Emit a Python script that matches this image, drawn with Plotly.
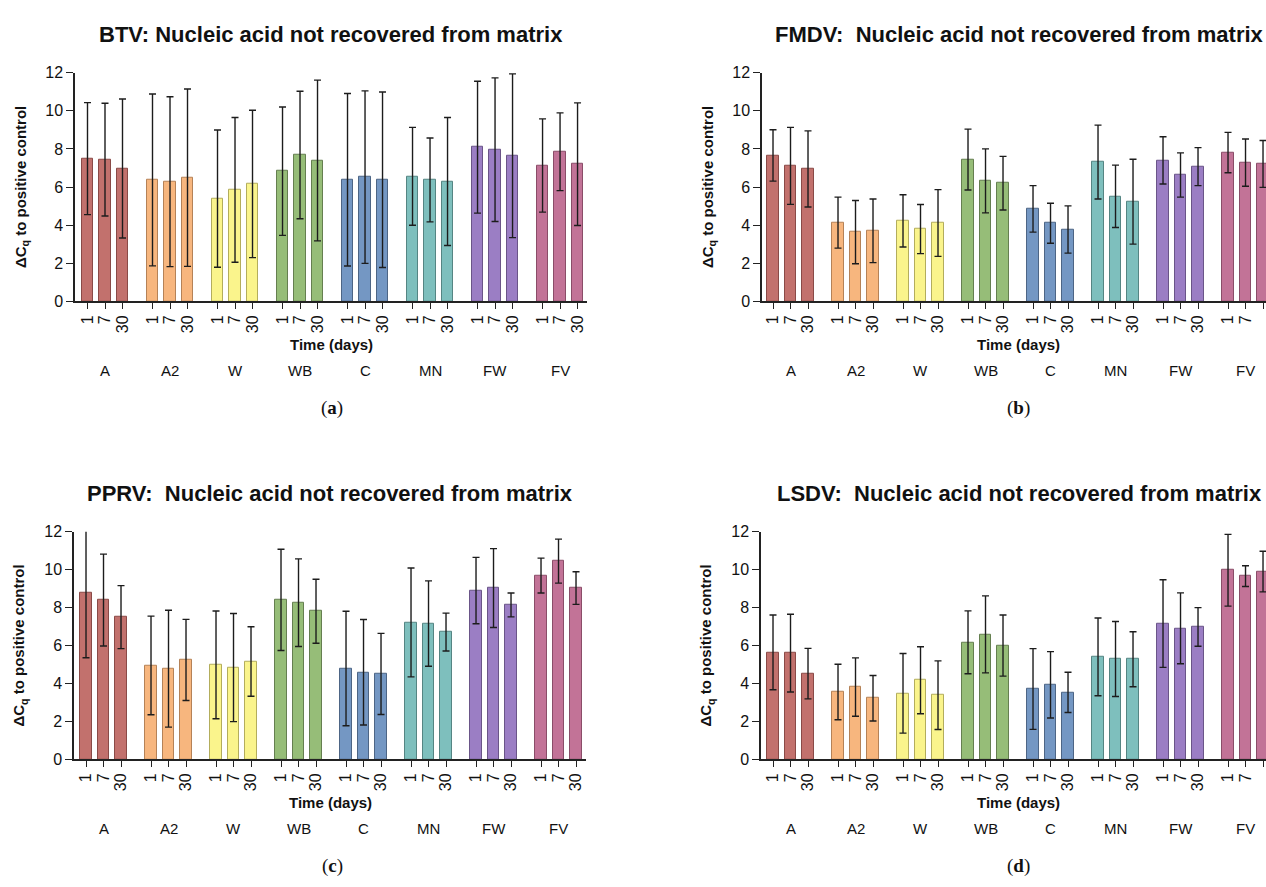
import plotly.graph_objects as go

GROUPS = ["A", "A2", "W", "WB", "C", "MN", "FW", "FV"]
TIMES = ["1", "7", "30"]
COLORS = ["#c2716d", "#f7b67e", "#faf48c", "#96bd78", "#7497c3", "#7ebfbd", "#9b7ec4", "#c27397"]
EDGES = ["#8a4a47", "#b58257", "#b3ad5c", "#657f50", "#4d6585", "#558583", "#6a5588", "#8a4d68"]

TITLES = ["BTV: Nucleic acid not recovered from matrix",
          "FMDV:  Nucleic acid not recovered from matrix",
          "PPRV:  Nucleic acid not recovered from matrix",
          "LSDV:  Nucleic acid not recovered from matrix"]
PANEL_LABELS = ["a", "b", "c", "d"]

BTV_MEAN = [7.49, 7.44, 6.97, 6.37, 6.28, 6.49, 5.39, 5.85, 6.16, 6.83, 7.68, 7.39,
            6.38, 6.52, 6.38, 6.56, 6.37, 6.29, 8.09, 7.96, 7.64, 7.13, 7.85, 7.20]
BTV_SD = [2.94, 2.96, 3.65, 4.51, 4.46, 4.66, 3.60, 3.80, 3.87, 3.37, 3.35, 4.22,
          4.53, 4.53, 4.61, 2.57, 2.20, 3.36, 3.46, 3.77, 4.30, 2.45, 2.04, 3.22]

FMDV_MEAN = [7.66, 7.11, 6.95, 4.13, 3.63, 3.70, 4.22, 3.79, 4.11, 7.44, 6.32, 6.20,
             4.85, 4.10, 3.77, 7.31, 5.51, 5.23, 7.40, 6.63, 7.07, 7.81, 7.28, 7.21]
FMDV_SD = [1.35, 2.02, 2.00, 1.34, 1.66, 1.67, 1.37, 1.29, 1.75, 1.60, 1.68, 1.41,
           1.22, 1.05, 1.24, 1.94, 1.64, 2.23, 1.24, 1.16, 1.00, 1.06, 1.24, 1.23]

PPRV_MEAN = [8.79, 8.40, 7.50, 4.95, 4.78, 5.24, 4.98, 4.84, 5.16, 8.41, 8.26, 7.81,
             4.79, 4.59, 4.50, 7.22, 7.16, 6.71, 8.90, 9.03, 8.14, 9.69, 10.45, 9.03]
PPRV_SD = [3.43, 2.42, 1.66, 2.60, 3.08, 2.14, 2.84, 2.85, 1.83, 2.67, 2.31, 1.69,
           3.02, 2.78, 2.14, 2.87, 2.25, 1.00, 1.75, 2.08, 0.63, 0.92, 1.16, 0.86]

LSDV_MEAN = [5.64, 5.60, 4.52, 3.55, 3.81, 3.22, 3.48, 4.17, 3.38, 6.17, 6.59, 6.00,
             3.71, 3.93, 3.53, 5.40, 5.29, 5.28, 7.16, 6.91, 6.98, 9.97, 9.66, 9.90]
LSDV_SD = [1.97, 2.05, 1.33, 1.46, 1.54, 1.20, 2.10, 1.77, 1.81, 1.66, 2.03, 1.61,
           2.13, 1.75, 1.06, 2.05, 1.98, 1.45, 2.31, 1.87, 1.02, 1.89, 0.55, 1.07]

YTICKS = [0, 2, 4, 6, 8, 10, 12]

W, H = 1266, 887
GSTEP = 65 / 17.5          # group spacing in bar units
BAR_W = 11.5 / 17.5

positions = [g * GSTEP + t for g in range(len(GROUPS)) for t in range(len(TIMES))]
bar_colors = [COLORS[g] for g in range(len(GROUPS)) for _ in TIMES]
edge_colors = [EDGES[g] for g in range(len(GROUPS)) for _ in TIMES]
ticktext = TIMES * len(GROUPS)

panels = [
    dict(mean=BTV_MEAN, sd=BTV_SD, x0=75, x1=587, y0=299, y1=66, xr=[-0.714, 28.54]),
    dict(mean=FMDV_MEAN, sd=FMDV_SD, x0=762, x1=1266, y0=299, y1=66, xr=[-0.629, 28.17]),
    dict(mean=PPRV_MEAN, sd=PPRV_SD, x0=74, x1=586, y0=766, y1=534, xr=[-0.686, 28.57]),
    dict(mean=LSDV_MEAN, sd=LSDV_SD, x0=761, x1=1266, y0=766, y1=534, xr=[-0.686, 28.17]),
]

FONT = "Liberation Sans, Arial, sans-serif"
fig = go.Figure()
annotations = []
layout = {}

for i, p in enumerate(panels):
    n = "" if i == 0 else str(i + 1)
    xa, ya = "x" + n, "y" + n
    fig.add_trace(go.Bar(
        x=positions, y=p["mean"], width=BAR_W,
        marker=dict(color=bar_colors, line=dict(color=edge_colors, width=1)),
        error_y=dict(type="data", array=p["sd"], visible=True, color="#1c1c1c",
                     thickness=1.4, width=3.5),
        xaxis=xa, yaxis=ya, showlegend=False, hoverinfo="x+y",
    ))
    layout["xaxis" + n] = dict(
        domain=[p["x0"] / W, min(p["x1"] / W, 1.0)], anchor=ya, range=p["xr"],
        tickmode="array", tickvals=positions, ticktext=ticktext, tickangle=-90,
        ticks="outside", ticklen=6, tickwidth=1.3, tickcolor="#222",
        showline=True, linecolor="#222", linewidth=1.5, showgrid=False, zeroline=False,
        tickfont=dict(family=FONT, size=16, color="#111"),
    )
    layout["yaxis" + n] = dict(
        domain=[1 - p["y0"] / H, 1 - p["y1"] / H], anchor=xa, range=[0, 12],
        tickmode="array", tickvals=YTICKS, ticks="outside", ticklen=7, tickwidth=1.3,
        tickcolor="#222", showline=True, linecolor="#222", linewidth=1.5,
        showgrid=False, zeroline=False, tickfont=dict(family=FONT, size=16, color="#111"),
    )
    left = i % 2 == 0
    cx = (p["x0"] + p["x1"]) / 2 if left else 1018
    # title
    annotations.append(dict(
        text="<b>" + TITLES[i] + "</b>", x=(cx if left else 1019) / W,
        y=1 - (p["y1"] - 39) / H, xref="paper", yref="paper", showarrow=False,
        font=dict(family=FONT, size=22, color="#111"), xanchor="center", yanchor="middle"))
    # y axis title
    annotations.append(dict(
        text="<b>ΔC<sub>q</sub> to positive control</b>", x=(p["x0"] - 54) / W,
        y=1 - ((p["y0"] + p["y1"]) / 2) / H, xref="paper", yref="paper", showarrow=False,
        textangle=-90, font=dict(family=FONT, size=15, color="#111"),
        xanchor="center", yanchor="middle"))
    # x axis title
    annotations.append(dict(
        text="<b>Time (days)</b>", x=cx / W,
        y=1 - (p["y0"] + 44) / H, xref="paper", yref="paper", showarrow=False,
        font=dict(family=FONT, size=15, color="#111"), xanchor="center", yanchor="middle"))
    # group labels
    for g, name in enumerate(GROUPS):
        annotations.append(dict(
            text=name, x=g * GSTEP + 1, xref=xa, y=1 - (p["y0"] + 71) / H, yref="paper",
            showarrow=False, font=dict(family=FONT, size=15, color="#111"),
            xanchor="center", yanchor="middle"))
    # panel label
    annotations.append(dict(
        text="(<b>" + PANEL_LABELS[i] + "</b>)", x=(332 if left else 1018) / W,
        y=1 - (p["y0"] + 109) / H, xref="paper", yref="paper", showarrow=False,
        font=dict(family="Liberation Serif, DejaVu Serif, serif", size=19, color="#111"),
        xanchor="center", yanchor="middle"))

fig.update_layout(
    width=W, height=H, margin=dict(l=0, r=0, t=0, b=0),
    paper_bgcolor="white", plot_bgcolor="white",
    annotations=annotations, bargap=0, **layout,
)

fig.write_html("out.html", config={"displayModeBar": False},
               post_script="document.body.style.margin='0';document.body.style.overflow='hidden';")
